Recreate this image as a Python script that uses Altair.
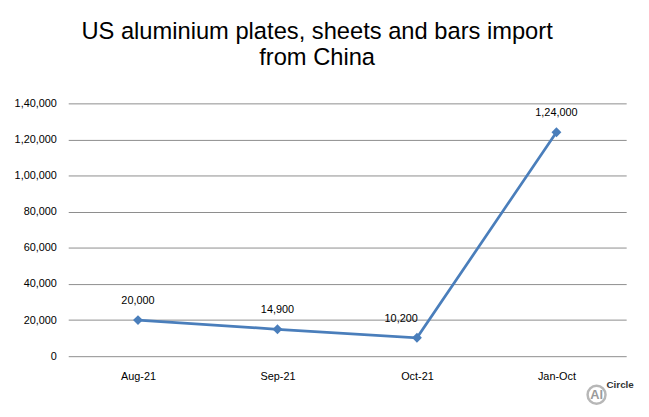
import altair as alt
import pandas as pd

categories = ["Aug-21", "Sep-21", "Oct-21", "Jan-Oct"]
values = [20000, 14900, 10200, 124000]
value_labels = ["20,000", "14,900", "10,200", "1,24,000"]
tick_values = [0, 20000, 40000, 60000, 80000, 100000, 120000, 140000]
tick_labels = ["0", "20,000", "40,000", "60,000", "80,000", "1,00,000", "1,20,000", "1,40,000"]

df = pd.DataFrame({"cat": categories, "val": values, "lab": value_labels})

label_expr = "{" + ",".join(f"'{v}':'{l}'" for v, l in zip(tick_values, tick_labels)) + "}[datum.value]"

FONT = "Liberation Sans"
LINE = "#4A7EBB"

x = alt.X("cat:N", sort=categories, title=None,
          scale=alt.Scale(paddingInner=0, paddingOuter=0),
          axis=alt.Axis(labelAngle=0, ticks=False, domain=False, labelPadding=15,
                        labelFont=FONT, labelFontSize=11, labelColor="#000000"))
y = alt.Y("val:Q", title=None,
          scale=alt.Scale(domain=[0, 140000], nice=False),
          axis=alt.Axis(values=tick_values, labelExpr=label_expr, ticks=False, domain=False,
                        labelPadding=12, labelFont=FONT, labelFontSize=11, labelColor="#000000",
                        grid=True, gridColor="#8C8C8C", gridWidth=1))

base = alt.Chart(df)

line = base.mark_line(color=LINE, strokeWidth=2.75).encode(x=x, y=y)
pts = base.mark_point(shape="diamond", filled=True, size=100, color=LINE, opacity=1).encode(x=x, y=y)

labels_main = base.transform_filter(alt.datum.cat != "Oct-21").mark_text(
    dy=-19, font=FONT, fontSize=11, color="#000000").encode(x=x, y=y, text="lab:N")
labels_oct = base.transform_filter(alt.datum.cat == "Oct-21").mark_text(
    dy=-19, dx=-16, font=FONT, fontSize=11, color="#000000").encode(x=x, y=y, text="lab:N")

title1 = alt.Chart(pd.DataFrame({"t": ["US aluminium plates, sheets and bars import"]})).mark_text(
    font=FONT, fontSize=24, color="#000000", baseline="alphabetic", align="center").encode(
    x=alt.value(252), y=alt.value(-65), text="t:N")
title2 = alt.Chart(pd.DataFrame({"t": ["from China"]})).mark_text(
    font=FONT, fontSize=24, color="#000000", baseline="alphabetic", align="center").encode(
    x=alt.value(252), y=alt.value(-39), text="t:N")

logo_circle = alt.Chart(pd.DataFrame({"a": [1]})).mark_point(
    shape="circle", size=330, color="#9A9A9A", strokeWidth=2.5, filled=False).encode(
    x=alt.value(535), y=alt.value(295))
logo_al = alt.Chart(pd.DataFrame({"t": ["Al"]})).mark_text(
    font=FONT, fontSize=13, fontWeight="bold", color="#9A9A9A").encode(
    x=alt.value(535), y=alt.value(295), text="t:N")
logo_txt = alt.Chart(pd.DataFrame({"t": ["Circle"]})).mark_text(
    font=FONT, fontSize=10, fontWeight="bold", color="#333333", align="left").encode(
    x=alt.value(545), y=alt.value(285), text="t:N")

chart = alt.layer(line, pts, labels_main, labels_oct, title1, title2, logo_circle, logo_al, logo_txt).properties(
    width=565, height=256,
    padding={"left": 61, "top": 94, "right": 15, "bottom": 59},
    autosize=alt.AutoSizeParams(type="none"),
    background="white",
).configure_view(stroke=None)

chart.save("out.html", embed_options={"renderer": "svg", "actions": False})
